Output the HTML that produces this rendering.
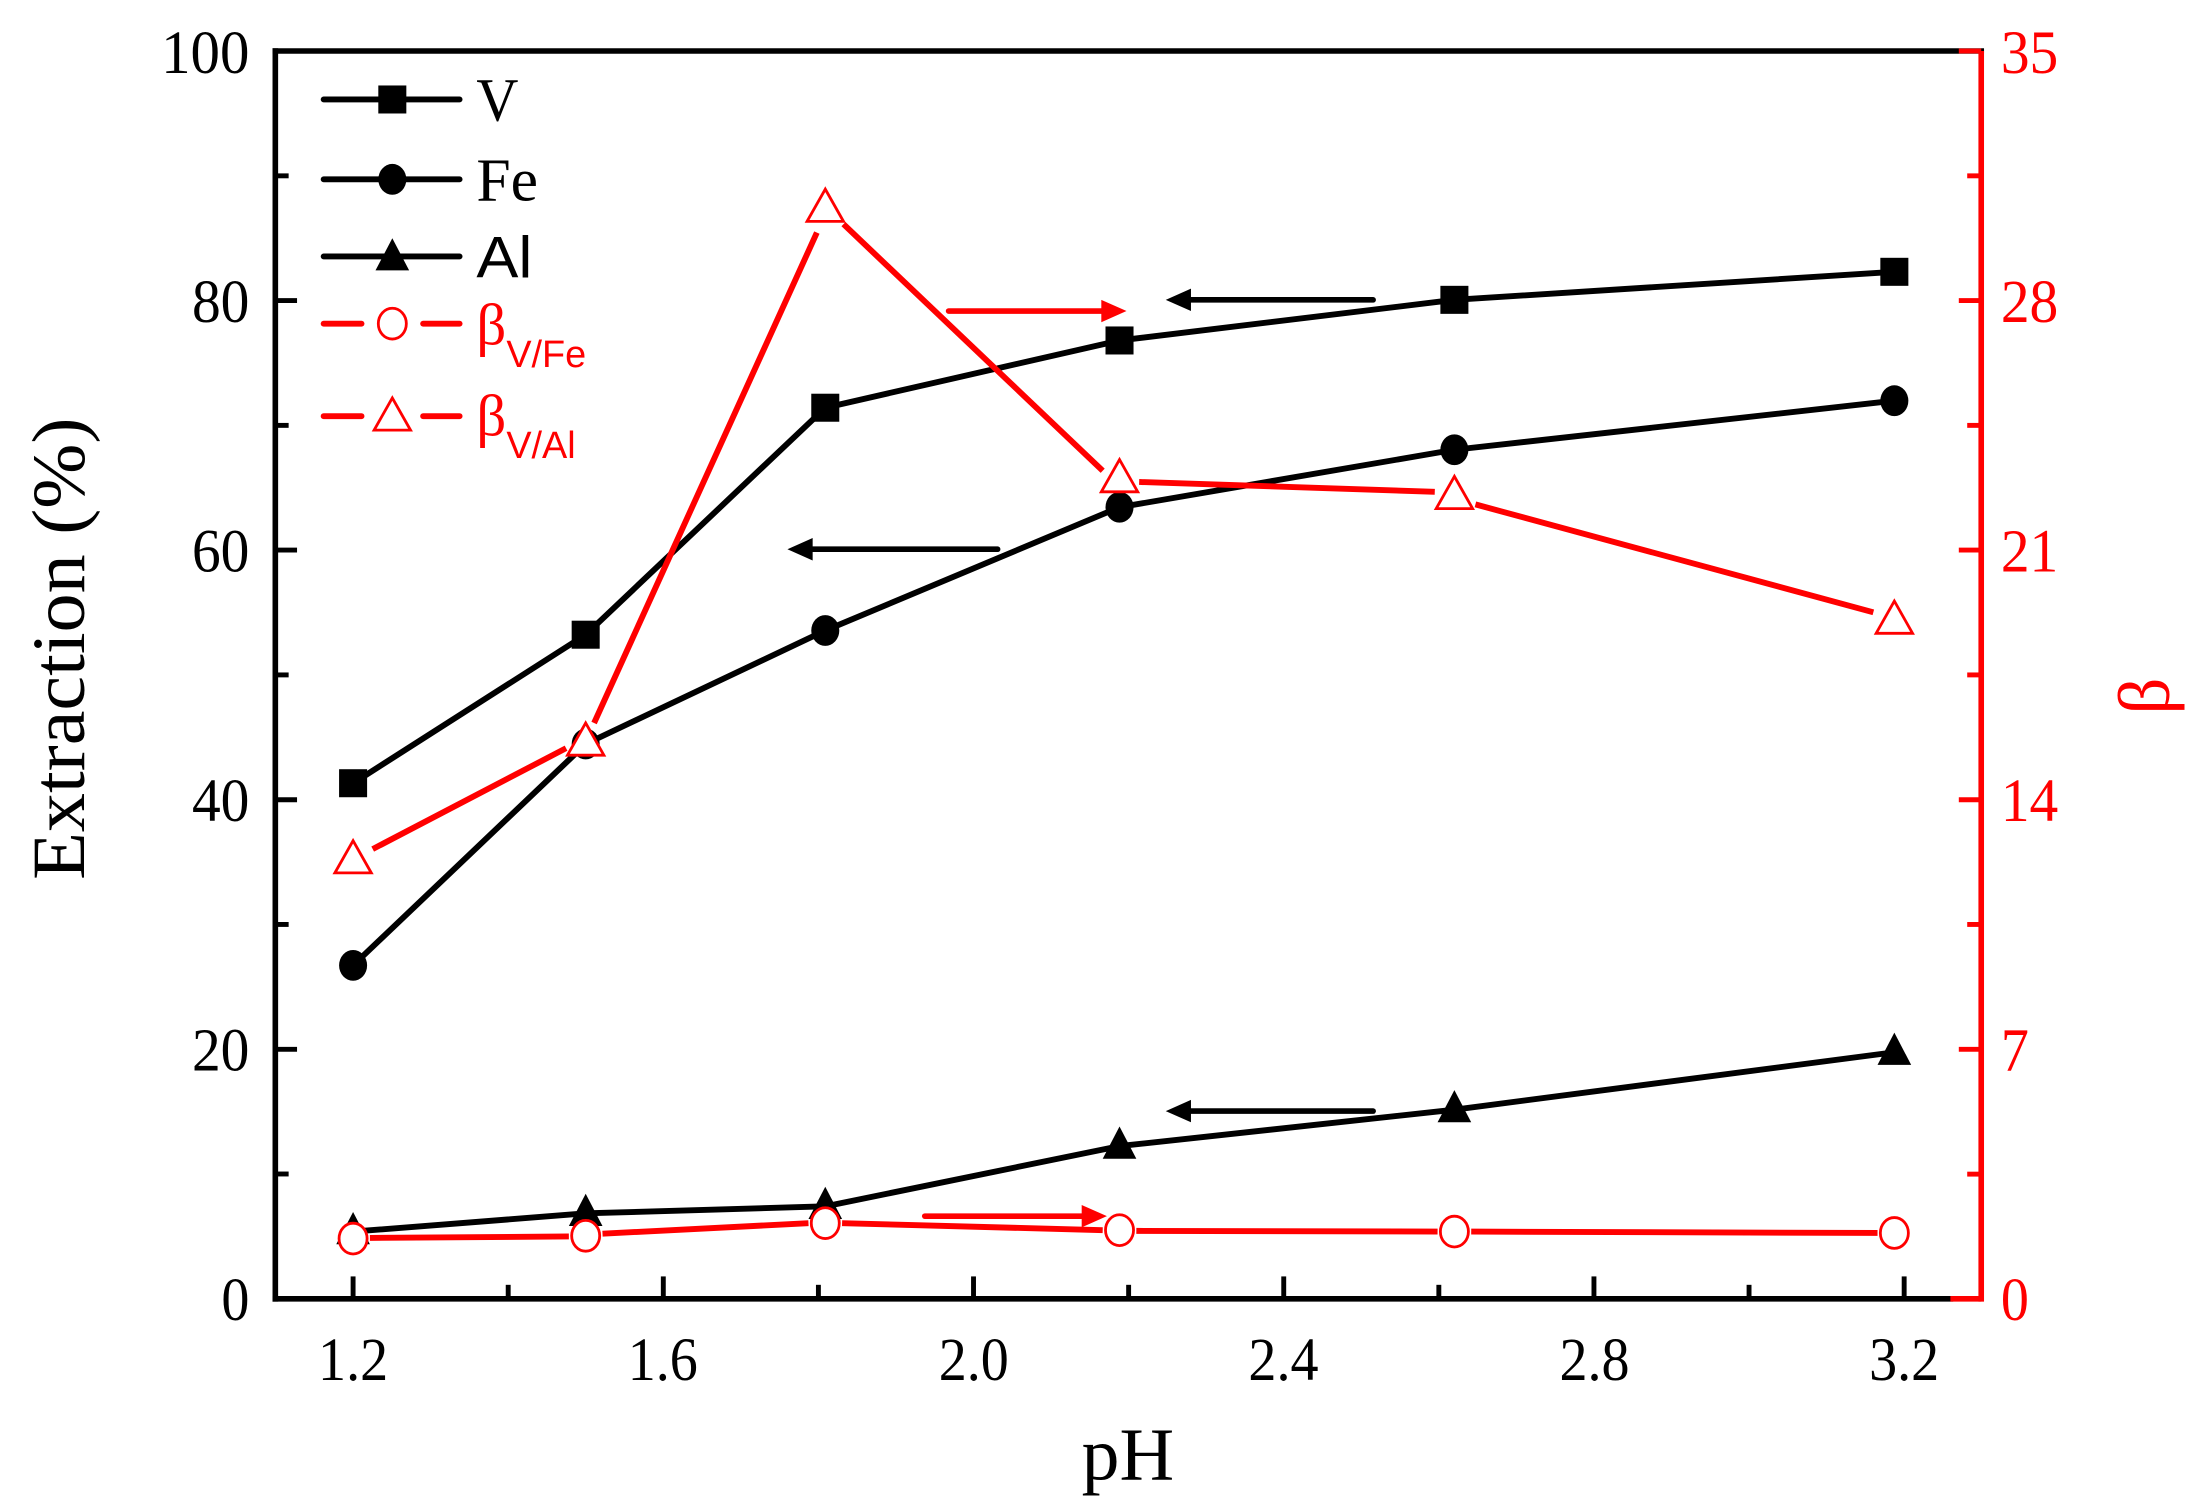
<!DOCTYPE html>
<html><head><meta charset="utf-8"><style>html,body{margin:0;padding:0;background:#fff}svg{display:block}</style></head>
<body>
<svg width="2197" height="1509" viewBox="0 0 1568 1077" preserveAspectRatio="none" xmlns="http://www.w3.org/2000/svg">
<rect width="1568" height="1077" fill="#fff"/>
<g font-family="Liberation Serif, serif" font-size="44" fill="#000">
<g stroke="#000" stroke-width="4" fill="none" stroke-linecap="square">
<line x1="196.5" y1="36.4" x2="1414" y2="36.4"/>
<line x1="196.5" y1="36.4" x2="196.5" y2="927"/>
<line x1="196.5" y1="927" x2="1392" y2="927"/>
</g>
<g stroke="#f00" stroke-width="4" fill="none">
<line x1="1414" y1="36.4" x2="1414" y2="929"/>
<line x1="1392" y1="927" x2="1414" y2="927"/>
</g>
<g stroke="#000" stroke-width="3.5">
<line x1="196" y1="927" x2="212" y2="927"/><line x1="196" y1="837.9" x2="206" y2="837.9"/>
<line x1="196" y1="748.9" x2="212" y2="748.9"/><line x1="196" y1="659.8" x2="206" y2="659.8"/>
<line x1="196" y1="570.8" x2="212" y2="570.8"/><line x1="196" y1="481.7" x2="206" y2="481.7"/>
<line x1="196" y1="392.6" x2="212" y2="392.6"/><line x1="196" y1="303.6" x2="206" y2="303.6"/>
<line x1="196" y1="214.5" x2="212" y2="214.5"/><line x1="196" y1="125.5" x2="206" y2="125.5"/>
<line x1="252" y1="927" x2="252" y2="911"/><line x1="362.7" y1="927" x2="362.7" y2="917"/>
<line x1="473.4" y1="927" x2="473.4" y2="911"/><line x1="584.1" y1="927" x2="584.1" y2="917"/>
<line x1="694.8" y1="927" x2="694.8" y2="911"/><line x1="805.5" y1="927" x2="805.5" y2="917"/>
<line x1="916.2" y1="927" x2="916.2" y2="911"/><line x1="1026.9" y1="927" x2="1026.9" y2="917"/>
<line x1="1137.6" y1="927" x2="1137.6" y2="911"/><line x1="1248.3" y1="927" x2="1248.3" y2="917"/>
<line x1="1359" y1="927" x2="1359" y2="911"/>
</g>
<g stroke="#f00" stroke-width="3.5">
<line x1="1414" y1="838" x2="1404" y2="838"/><line x1="1414" y1="748.9" x2="1398" y2="748.9"/>
<line x1="1414" y1="659.8" x2="1404" y2="659.8"/><line x1="1414" y1="570.8" x2="1398" y2="570.8"/>
<line x1="1414" y1="481.7" x2="1404" y2="481.7"/><line x1="1414" y1="392.6" x2="1398" y2="392.6"/>
<line x1="1414" y1="303.6" x2="1404" y2="303.6"/><line x1="1414" y1="214.5" x2="1398" y2="214.5"/>
<line x1="1414" y1="125.5" x2="1404" y2="125.5"/><line x1="1414" y1="36.4" x2="1398" y2="36.4"/>
</g>
<text x="158" y="942" textLength="20" lengthAdjust="spacingAndGlyphs">0</text>
<text x="137" y="764" textLength="41" lengthAdjust="spacingAndGlyphs">20</text>
<text x="137" y="586" textLength="41" lengthAdjust="spacingAndGlyphs">40</text>
<text x="137" y="408" textLength="41" lengthAdjust="spacingAndGlyphs">60</text>
<text x="137" y="230" textLength="41" lengthAdjust="spacingAndGlyphs">80</text>
<text x="115" y="52" textLength="63" lengthAdjust="spacingAndGlyphs">100</text>
<text x="227" y="985" textLength="50" lengthAdjust="spacingAndGlyphs">1.2</text>
<text x="448" y="985" textLength="50" lengthAdjust="spacingAndGlyphs">1.6</text>
<text x="670" y="985" textLength="50" lengthAdjust="spacingAndGlyphs">2.0</text>
<text x="891" y="985" textLength="50" lengthAdjust="spacingAndGlyphs">2.4</text>
<text x="1113" y="985" textLength="50" lengthAdjust="spacingAndGlyphs">2.8</text>
<text x="1334" y="985" textLength="50" lengthAdjust="spacingAndGlyphs">3.2</text>
<g fill="#f00">
<text x="1428" y="942" textLength="20" lengthAdjust="spacingAndGlyphs">0</text>
<text x="1428" y="764" textLength="20" lengthAdjust="spacingAndGlyphs">7</text>
<text x="1428" y="586" textLength="41" lengthAdjust="spacingAndGlyphs">14</text>
<text x="1428" y="408" textLength="41" lengthAdjust="spacingAndGlyphs">21</text>
<text x="1428" y="230" textLength="41" lengthAdjust="spacingAndGlyphs">28</text>
<text x="1428" y="52" textLength="41" lengthAdjust="spacingAndGlyphs">35</text>
</g>
<text x="772" y="1056" font-size="54" textLength="66" lengthAdjust="spacingAndGlyphs">pH</text>
<text transform="translate(60,628) rotate(-90)" font-size="54" textLength="330" lengthAdjust="spacingAndGlyphs">Extraction (%)</text>
<text transform="translate(1548,510) rotate(-90)" font-size="52" fill="#f00">β</text>

<g fill="none" stroke-width="4.2" stroke-linejoin="round">
<polyline stroke="#000" points="252,559 418,453 589,291 799,243 1038,214 1352,194"/>
<polyline stroke="#000" points="252,689 418,531 589,450 799,362 1038,321 1352,286"/>
<polyline stroke="#000" points="252,879 418,866 589,861 799,818 1038,792 1352,751"/>
<g stroke="#f00">
<line x1="264" y1="883.5" x2="406" y2="882.5"/><line x1="430" y1="880.5" x2="577" y2="873"/>
<line x1="601" y1="873" x2="787" y2="878"/><line x1="811" y1="878.5" x2="1026" y2="879"/>
<line x1="1050" y1="879" x2="1340" y2="880"/>
<line x1="266" y1="606" x2="404" y2="534"/><line x1="424" y1="516" x2="583" y2="166"/>
<line x1="602" y1="160" x2="787" y2="336"/><line x1="813" y1="344" x2="1024" y2="351"/>
<line x1="1053" y1="360" x2="1337" y2="437"/>
</g>
</g>
<g fill="#000">
<rect x="242" y="549" width="20" height="20"/><rect x="408" y="443" width="20" height="20"/>
<rect x="579" y="281" width="20" height="20"/><rect x="789" y="233" width="20" height="20"/>
<rect x="1028" y="204" width="20" height="20"/><rect x="1342" y="184" width="20" height="20"/>
<ellipse cx="252" cy="689" rx="10" ry="11"/><ellipse cx="418" cy="531" rx="10" ry="11"/><ellipse cx="589" cy="450" rx="10" ry="11"/>
<ellipse cx="799" cy="362" rx="10" ry="11"/><ellipse cx="1038" cy="321" rx="10" ry="11"/><ellipse cx="1352" cy="286" rx="10" ry="11"/>
<polygon points="252,865 240,888 264,888"/><polygon points="418,852 406,875 430,875"/>
<polygon points="589,847 577,870 601,870"/><polygon points="799,804 787,827 811,827"/>
<polygon points="1038,778 1026,801 1050,801"/><polygon points="1352,737 1340,760 1364,760"/>
</g>
<g fill="#fff" stroke="#f00" stroke-width="2">
<ellipse cx="252" cy="884" rx="10" ry="11"/><ellipse cx="418" cy="882" rx="10" ry="11"/><ellipse cx="589" cy="873" rx="10" ry="11"/>
<ellipse cx="799" cy="878" rx="10" ry="11"/><ellipse cx="1038" cy="879" rx="10" ry="11"/><ellipse cx="1352" cy="880" rx="10" ry="11"/>
<polygon points="252,600 239,623 265,623"/><polygon points="418,516 405,539 431,539"/>
<polygon points="589,135 576,158 602,158"/><polygon points="799,328 786,351 812,351"/>
<polygon points="1038,340 1025,363 1051,363"/><polygon points="1352,429 1339,452 1365,452"/>
</g>
<g stroke-width="4" stroke-linecap="round">
<line x1="980" y1="214" x2="845" y2="214" stroke="#000"/><polygon points="832,214 850,206 850,222" fill="#000"/>
<line x1="712" y1="392" x2="575" y2="392" stroke="#000"/><polygon points="562,392 580,384 580,400" fill="#000"/>
<line x1="980" y1="793" x2="845" y2="793" stroke="#000"/><polygon points="832,793 850,785 850,801" fill="#000"/>
<line x1="677" y1="222" x2="790" y2="222" stroke="#f00"/><polygon points="804,222 786,214 786,230" fill="#f00"/>
<line x1="660" y1="868" x2="776" y2="868" stroke="#f00"/><polygon points="790,868 772,860 772,876" fill="#f00"/>
</g>
<g stroke-width="4.2" stroke-linecap="round">
<line x1="231" y1="71" x2="328" y2="71" stroke="#000"/><rect x="270" y="61" width="20" height="20" fill="#000"/>
<line x1="231" y1="128" x2="328" y2="128" stroke="#000"/><ellipse cx="280" cy="128" rx="10" ry="11" fill="#000" stroke="none"/>
<line x1="231" y1="183" x2="328" y2="183" stroke="#000"/><polygon points="280,170 268,193 292,193" fill="#000" stroke="none"/>
<line x1="231" y1="231" x2="258" y2="231" stroke="#f00"/><line x1="302" y1="231" x2="328" y2="231" stroke="#f00"/>
<ellipse cx="280" cy="231" rx="10" ry="11" fill="#fff" stroke="#f00" stroke-width="2"/>
<line x1="231" y1="297" x2="258" y2="297" stroke="#f00"/><line x1="302" y1="297" x2="328" y2="297" stroke="#f00"/>
<polygon points="280,284 267,307 293,307" fill="#fff" stroke="#f00" stroke-width="2"/>
</g>
<text x="340" y="86" font-size="44" textLength="30" lengthAdjust="spacingAndGlyphs">V</text>
<text x="340" y="143" font-size="44" textLength="44" lengthAdjust="spacingAndGlyphs">Fe</text>
<text x="340" y="198" font-size="42" font-family="Liberation Sans, sans-serif" textLength="40" lengthAdjust="spacingAndGlyphs">Al</text>
<text x="340" y="246" font-size="42" fill="#f00">β<tspan font-family="Liberation Sans, sans-serif" font-size="27" dy="16">V/Fe</tspan></text>
<text x="340" y="311" font-size="42" fill="#f00">β<tspan font-family="Liberation Sans, sans-serif" font-size="27" dy="16">V/Al</tspan></text>
</g>
</svg>
</body></html>
